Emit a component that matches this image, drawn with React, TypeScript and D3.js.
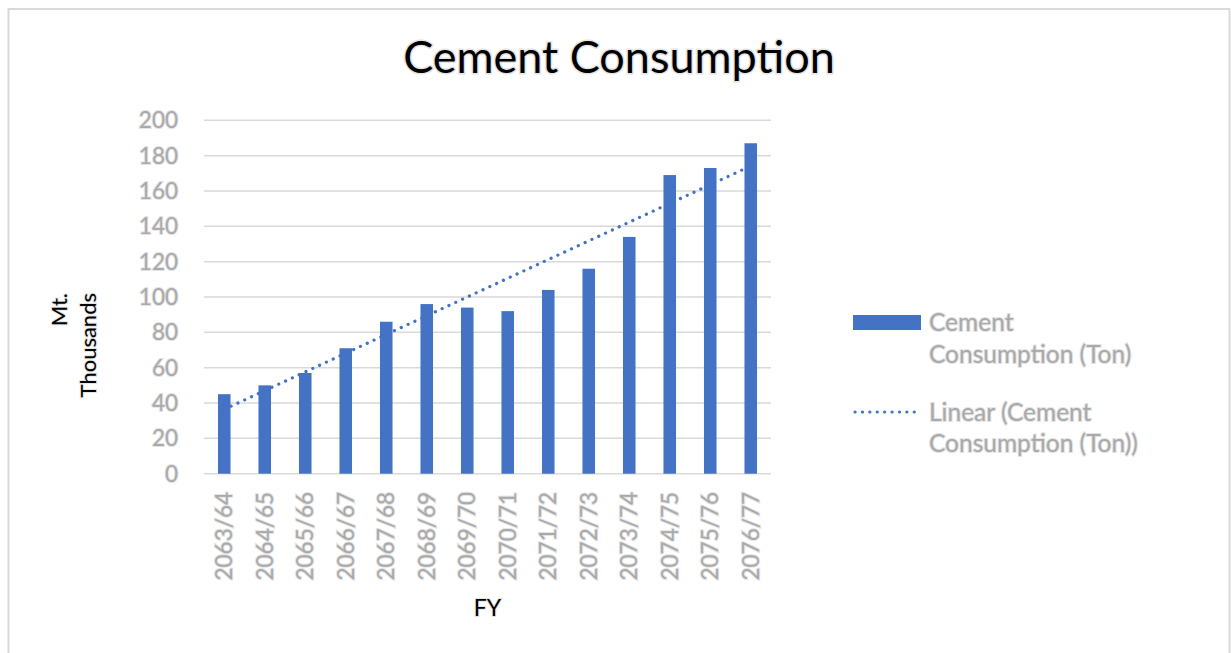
import React from "react";
import * as d3 from "d3";

const categories = ["2063/64","2064/65","2065/66","2066/67","2067/68","2068/69","2069/70","2070/71","2071/72","2072/73","2073/74","2074/75","2075/76","2076/77"];
const consumption = [45, 50, 57, 71, 86, 96, 94, 92, 104, 116, 134, 169, 173, 187];
const yTicks = [0, 20, 40, 60, 80, 100, 120, 140, 160, 180, 200];
const title = "Cement Consumption";
const xTitle = "FY";
const yTitle = "Mt.";
const yUnits = "Thousands";
const legendBar = ["Cement", "Consumption (Ton)"];
const legendTrend = ["Linear (Cement", "Consumption (Ton))"];

const FONT = "Lato, 'Open Sans', sans-serif";
const BLUE = "#4472c4";
const GRAY_TXT = "#a9a9a9";
const HALO = { stroke: "#e4e4e4", strokeWidth: 2, paintOrder: "stroke" as const };

export default function App() {
  const W = 1231, H = 653;
  const left = 204, right = 771, top = 120.3, bottom = 473.7;
  const x = d3.scaleBand<string>().domain(categories).range([left, right]).paddingInner(0.69).paddingOuter(0.345);
  const y = d3.scaleLinear().domain([0, 200]).range([bottom, top]);

  // linear trend (least squares) like Excel's trendline
  const n = consumption.length;
  const xs = consumption.map((_, i) => i + 1);
  const mx = d3.mean(xs)!;
  const my = d3.mean(consumption)!;
  const sxy = d3.sum(xs.map((xi, i) => (xi - mx) * (consumption[i] - my)));
  const sxx = d3.sum(xs.map((xi) => (xi - mx) ** 2));
  const slope = sxy / sxx;
  const intercept = my - slope * mx;
  const trendPts: [number, number][] = categories.map((c, i) => [x(c)! + x.bandwidth() / 2, y(intercept + slope * (i + 1))]);
  const line = d3.line();
  const trendPath = line([trendPts[0], trendPts[n - 1]])!;

  return (
    <svg width={W} height={H} style={{ position: "absolute", left: 0, top: 0, background: "#fff" }} fontFamily={FONT}>
      <rect x={8.5} y={9} width={1221} height={700} fill="#fff" stroke="#d9d9d9" strokeWidth={2} />
      <text x={619} y={73} textAnchor="middle" fontSize={45} fill="#000" {...HALO} strokeWidth={3}>{title}</text>

      {yTicks.map((t) => (
        <line key={"g" + t} x1={left} x2={right} y1={y(t)} y2={y(t)} stroke="#d9d9d9" strokeWidth={1.5} />
      ))}
      {yTicks.map((t) => (
        <text key={"yt" + t} x={178} y={y(t)} dy="0.36em" textAnchor="end" fontSize={22.5} fill={GRAY_TXT} {...HALO}>{t}</text>
      ))}

      {categories.map((c, i) => (
        <rect key={c} x={x(c)!} y={y(consumption[i])} width={x.bandwidth()} height={y(0) - y(consumption[i])} fill={BLUE} />
      ))}
      <path d={trendPath} fill="none" stroke={BLUE} strokeWidth={3.2} strokeLinecap="round" strokeDasharray="0.1 7.4" />

      {categories.map((c) => {
        const cx = x(c)! + x.bandwidth() / 2;
        return (
          <text key={"xl" + c} transform={`translate(${cx},492) rotate(-90)`} dy="0.36em" textAnchor="end" fontSize={22.5} fill={GRAY_TXT} {...HALO}>{c}</text>
        );
      })}

      <text x={(left + right) / 2} y={616} textAnchor="middle" fontSize={23} fill="#000" {...HALO}>{xTitle}</text>
      <text transform="translate(67,293) rotate(-90)" textAnchor="end" fontSize={22} fill="#000" {...HALO}>{yTitle}</text>
      <text transform="translate(96,293) rotate(-90)" textAnchor="end" fontSize={22} fill="#000" {...HALO}>{yUnits}</text>

      <rect x={853} y={315} width={68} height={15} fill={BLUE} />
      {legendBar.map((s, i) => (
        <text key={"lb" + i} x={929} y={331 + i * 32} fontSize={24.5} fill={GRAY_TXT} {...HALO}>{s}</text>
      ))}
      <line x1={855} x2={921} y1={412} y2={412} stroke={BLUE} strokeWidth={3.2} strokeLinecap="round" strokeDasharray="0.1 7.3" />
      {legendTrend.map((s, i) => (
        <text key={"lt" + i} x={929} y={421 + i * 31} fontSize={24.5} fill={GRAY_TXT} {...HALO}>{s}</text>
      ))}
    </svg>
  );
}
